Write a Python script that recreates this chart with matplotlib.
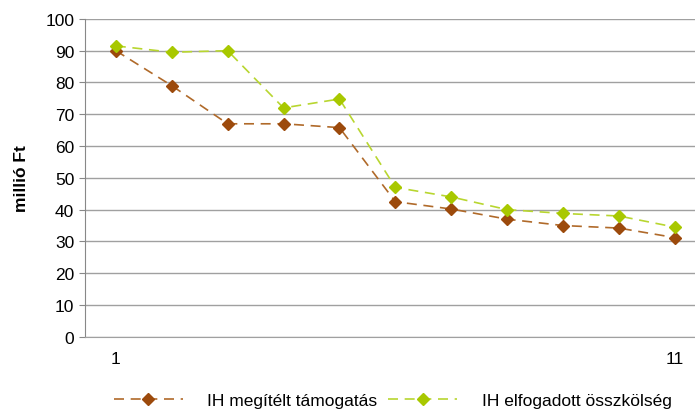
import matplotlib.pyplot as plt
import numpy as np

categories = list(range(1, 12))
tick_labels = ["1", "", "", "", "", "", "", "", "", "", "11"]
tamogatas = [90, 79, 67, 67, 65.8, 42.5, 40.2, 37, 35, 34.2, 31.2]
osszkoltseg = [91.5, 89.5, 90, 72, 74.8, 47, 44, 40, 38.8, 38, 34.5]

plt.rcParams['font.family'] = ['Liberation Sans', 'DejaVu Sans']

fig = plt.figure(figsize=(6.95, 4.14), dpi=100)
ax = fig.add_axes([0.122, 0.184, 0.878, 0.768])

ax.plot(categories, tamogatas, linestyle=(0, (6, 4)), color="#b06a2a", linewidth=1.2,
        marker="D", markersize=6, markerfacecolor="#9c4a0c", markeredgecolor="#9c4a0c",
        label="IH megítélt támogatás")
ax.plot(categories, osszkoltseg, linestyle=(0, (6, 4)), color="#b8d630", linewidth=1.2,
        marker="D", markersize=6, markerfacecolor="#a8c800", markeredgecolor="#a8c800",
        label="IH elfogadott összkölség")

ax.set_ylim(0, 100)
ax.set_yticks(np.arange(0, 101, 10))
ax.set_xlim(0.445, 11.36)
ax.set_xticks(categories)
ax.set_xticklabels(tick_labels)
ax.tick_params(axis="x", length=0, labelsize=12.5, pad=10)
ax.tick_params(axis="y", length=4, color="#888888", labelsize=12.5)
ax.set_ylabel("millió Ft", fontsize=12.5, fontweight="bold", labelpad=12)

ax.grid(axis="y", color="#a0a0a0", linewidth=1)
ax.set_axisbelow(True)
for s in ["top", "right"]:
    ax.spines[s].set_visible(False)
ax.spines["left"].set_color("#888888")
ax.spines["bottom"].set_color("#a0a0a0")

fig.legend(loc="lower center", bbox_to_anchor=(0.565, -0.025), ncol=2, frameon=False,
           fontsize=12.5, handlelength=4.0, columnspacing=0.6, handletextpad=1.4)

plt.savefig("out.png", dpi=100)
